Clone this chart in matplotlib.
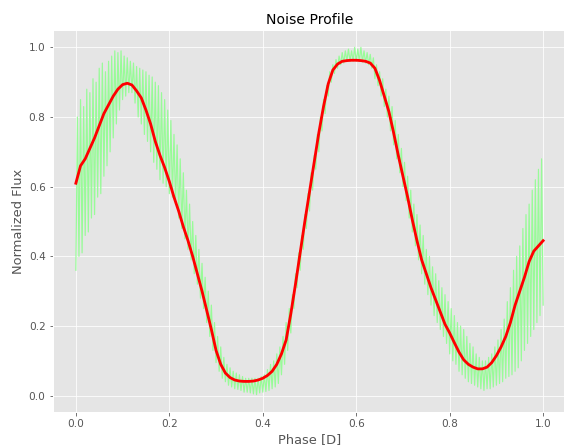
import numpy as np
import matplotlib
matplotlib.use("Agg")
import matplotlib.pyplot as plt

plt.style.use("ggplot")

# raw folded flux, alternating samples (low, high, low, ...), phase 0 -> 1
noise_flux = [
    0.36, 0.80, 0.40, 0.85, 0.41, 0.83, 0.46, 0.88, 0.47, 0.87,        # 0.000
    0.51, 0.91, 0.52, 0.90, 0.57, 0.94, 0.58, 0.955, 0.63, 0.93,
    0.66, 0.96, 0.70, 0.975, 0.74, 0.99, 0.78, 0.985, 0.82, 0.99,      # 0.067
    0.85, 0.975, 0.86, 0.97, 0.87, 0.96, 0.87, 0.955, 0.84, 0.945,
    0.80, 0.94, 0.78, 0.935, 0.75, 0.93, 0.73, 0.92, 0.70, 0.915,      # 0.133
    0.67, 0.90, 0.65, 0.89, 0.62, 0.87, 0.61, 0.85, 0.60, 0.82,
    0.58, 0.79, 0.57, 0.75, 0.55, 0.72, 0.51, 0.68, 0.48, 0.64,        # 0.200
    0.45, 0.59, 0.42, 0.55, 0.39, 0.50, 0.35, 0.46, 0.32, 0.42,
    0.28, 0.38, 0.25, 0.34, 0.21, 0.30, 0.17, 0.26, 0.13, 0.21,        # 0.267
    0.095, 0.17, 0.07, 0.14, 0.05, 0.11, 0.04, 0.09, 0.03, 0.08,
    0.025, 0.07, 0.02, 0.065, 0.018, 0.06, 0.015, 0.055, 0.01, 0.05,   # 0.333
    0.01, 0.05, 0.008, 0.05, 0.005, 0.05, 0.003, 0.05, 0.008, 0.055,
    0.01, 0.06, 0.012, 0.075, 0.015, 0.09, 0.02, 0.10, 0.025, 0.12,    # 0.400
    0.035, 0.14, 0.06, 0.17, 0.09, 0.21, 0.13, 0.25, 0.18, 0.29,
    0.25, 0.35, 0.31, 0.41, 0.36, 0.46, 0.42, 0.52, 0.48, 0.58,        # 0.467
    0.53, 0.64, 0.59, 0.69, 0.65, 0.75, 0.70, 0.80, 0.76, 0.85,
    0.81, 0.89, 0.86, 0.93, 0.90, 0.95, 0.925, 0.965, 0.94, 0.975,     # 0.533
    0.95, 0.985, 0.955, 0.99, 0.96, 0.995, 0.96, 0.99, 0.96, 1.0,
    0.96, 0.995, 0.96, 1.0, 0.958, 0.99, 0.955, 0.985, 0.95, 0.98,     # 0.600
    0.94, 0.97, 0.91, 0.95, 0.89, 0.93, 0.86, 0.91, 0.83, 0.88,
    0.80, 0.86, 0.76, 0.83, 0.72, 0.79, 0.68, 0.75, 0.64, 0.71,        # 0.667
    0.60, 0.67, 0.56, 0.63, 0.51, 0.59, 0.47, 0.55, 0.43, 0.52,
    0.39, 0.49, 0.35, 0.46, 0.32, 0.42, 0.29, 0.40, 0.26, 0.37,        # 0.733
    0.23, 0.35, 0.21, 0.33, 0.19, 0.31, 0.17, 0.29, 0.15, 0.27,
    0.12, 0.25, 0.10, 0.23, 0.09, 0.21, 0.07, 0.20, 0.06, 0.19,        # 0.800
    0.05, 0.17, 0.04, 0.15, 0.035, 0.14, 0.03, 0.12, 0.025, 0.11,
    0.02, 0.10, 0.015, 0.10, 0.02, 0.11, 0.02, 0.12, 0.025, 0.14,      # 0.867
    0.03, 0.16, 0.035, 0.19, 0.04, 0.22, 0.05, 0.27, 0.055, 0.31,
    0.06, 0.36, 0.07, 0.40, 0.08, 0.43, 0.10, 0.48, 0.13, 0.52,        # 0.933
    0.15, 0.55, 0.17, 0.59, 0.19, 0.62, 0.21, 0.65, 0.23, 0.68,
    0.26,
]
noise_phase = np.linspace(0, 1, len(noise_flux))

# smoothed profile, phase step 0.01
smooth_flux = [
    0.61, 0.66, 0.68, 0.71, 0.74, 0.775, 0.81, 0.835, 0.86, 0.88,
    0.893, 0.897, 0.892, 0.875, 0.855, 0.82, 0.78, 0.73, 0.69, 0.655,
    0.615, 0.57, 0.53, 0.485, 0.445, 0.40, 0.35, 0.30, 0.245, 0.19,
    0.13, 0.09, 0.065, 0.052, 0.045, 0.042, 0.041, 0.041, 0.042, 0.045,
    0.05, 0.058, 0.07, 0.09, 0.12, 0.16, 0.235, 0.32, 0.41, 0.50,
    0.585, 0.67, 0.755, 0.83, 0.895, 0.935, 0.952, 0.96, 0.962, 0.963,
    0.963, 0.962, 0.96, 0.955, 0.94, 0.905, 0.86, 0.815, 0.755, 0.69,
    0.63, 0.57, 0.505, 0.445, 0.39, 0.35, 0.31, 0.275, 0.24, 0.205,
    0.18, 0.152, 0.125, 0.103, 0.09, 0.082, 0.077, 0.077, 0.082, 0.095,
    0.115, 0.14, 0.17, 0.21, 0.26, 0.30, 0.34, 0.385, 0.415, 0.43,
    0.445,
]
smooth_phase = np.linspace(0, 1, len(smooth_flux))

fig = plt.figure(figsize=(564 / 72, 446 / 72), dpi=72)
ax = fig.add_axes([52.5 / 564, 34 / 446, 514 / 564, 382 / 446])

ax.plot(noise_phase, noise_flux, color="#98fb98", lw=1.2)
ax.plot(smooth_phase, smooth_flux, color="red", lw=2.8)

ax.set_title("Noise Profile", fontsize=14, color="black")
ax.set_xlabel("Phase [D]", fontsize=13, color="#555555")
ax.set_ylabel("Normalized Flux", fontsize=13, color="#555555")
ax.tick_params(labelsize=10.5, colors="#555555")

fig.savefig("out.png", dpi=72)
